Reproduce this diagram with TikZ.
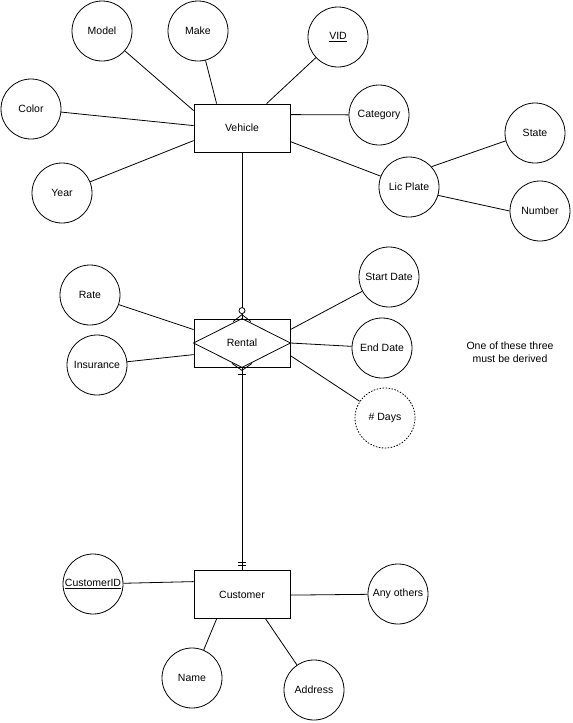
\documentclass[tikz,border=0pt]{standalone}
\usepackage{fontspec}
\setmainfont{Liberation Sans}
\usetikzlibrary{calc}
\begin{document}
\begin{tikzpicture}[x=1pt,y=-1pt,line width=0.8pt,
  attr/.style={draw,circle,minimum size=60pt,inner sep=0pt,font=\fontsize{10.5}{12}\selectfont},
  derived/.style={attr,dash pattern=on 1.5pt off 1.5pt},
  ent/.style={draw,rectangle,minimum width=96pt,minimum height=48pt,inner sep=0pt,font=\fontsize{10.5}{12}\selectfont},
  note/.style={align=center,font=\fontsize{10.5}{12.5}\selectfont}]
\useasboundingbox (0,0) rectangle (573,723);
% entities
\node[ent] (veh) at (242,128) {Vehicle};
\node[ent] (rent) at (242,343) {Rental};
\node[ent] (cust) at (242,594.5) {Customer};
\draw (rent.north) -- (rent.east) -- (rent.south) -- (rent.west) -- cycle;
% vehicle attributes
\node[attr] (model) at (102,31) {Model};
\node[attr] (make) at (198,31) {Make};
\node[attr] (vid) at (338,37) {\underline{VID}};
\node[attr] (color) at (31,109) {Color};
\node[attr] (cat) at (379,115) {Category};
\node[attr] (year) at (62,193) {Year};
\node[attr] (lic) at (409,187) {Lic Plate};
\node[attr] (state) at (535,133) {State};
\node[attr] (num) at (540,211) {Number};
% rental attributes
\node[attr] (rate) at (90,295) {Rate};
\node[attr] (ins) at (97,365) {Insurance};
\node[attr] (start) at (389,277) {Start Date};
\node[attr] (end) at (382,348) {End Date};
\node[derived] (days) at (385,418) {\# Days};
% customer attributes
\node[attr] (cid) at (93,584) {\underline{CustomerID}};
\node[attr] (other) at (398,594) {Any others};
\node[attr] (name) at (192,678) {Name};
\node[attr] (addr) at (314,690) {Address};
% note
\node[note] (txt) at (510,352) {One of these three\\must be derived};
% vehicle connectors
\draw ($(veh.north west)+(0,7)$) -- (model);
\draw ($(veh.north west)+(23,0)$) -- (make);
\draw ($(veh.north west)+(73,0)$) -- (vid);
\draw ($(veh.north east)+(0,11)$) -- (cat);
\draw ($(veh.north west)+(0,22)$) -- (color);
\draw ($(veh.north west)+(0,37)$) -- (year);
\draw ($(veh.north east)+(0,38)$) -- (lic);
\draw (lic.42) -- (state.195);
\draw (lic.344) -- (num.180);
% rental connectors
\draw ($(rent.north west)+(0,11)$) -- (rate);
\draw ($(rent.north west)+(0,36)$) -- (ins);
\draw ($(rent.north east)+(0,11)$) -- (start);
\draw (rent.east) -- (end);
\draw ($(rent.north east)+(0,37)$) -- (days);
% customer connectors
\draw ($(cust.north west)+(0,11.5)$) -- (cid);
\draw ($(cust.north east)+(0,25)$) -- (other);
\draw ($(cust.south west)+(23,0)$) -- (name);
\draw ($(cust.south west)+(72,0)$) -- (addr);
% relationship connectors
\coordinate (vt) at ($(rent.north)+(0,-8)$);
\draw (veh.south) -- ($(vt)+(0,-3)$);
\draw (vt) circle (3);
\draw ($(vt)+(0,3)$) -- (rent.north);
\draw ($(vt)+(0,4)$) -- ($(rent.north)+(-9,3)$);
\draw ($(vt)+(0,4)$) -- ($(rent.north)+(9,3)$);
\coordinate (rb) at ($(rent.south)+(0,3)$);
\draw ($(rent.south)+(-10,-4)$) -- (rb) -- ($(rent.south)+(10,-4)$);
\draw (rent.south) -- (cust.north);
\draw ($(rb)+(-4,4)$) -- ($(rb)+(4,4)$);
\draw ($(cust.north)+(-4,-8)$) -- ($(cust.north)+(4,-8)$);
\draw ($(cust.north)+(-4,-5)$) -- ($(cust.north)+(4,-5)$);
\end{tikzpicture}
\end{document}
